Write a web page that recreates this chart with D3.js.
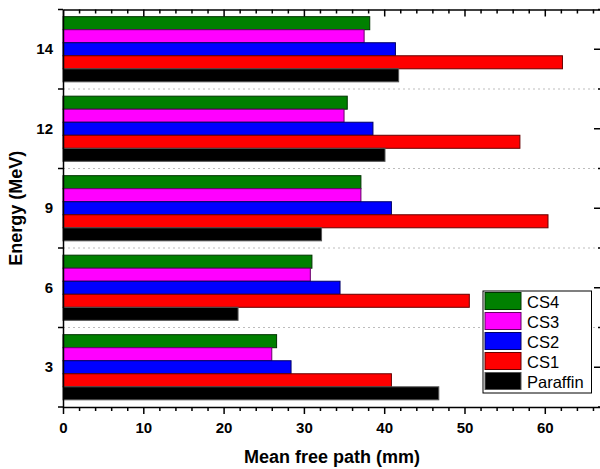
<!DOCTYPE html>
<html>
<head>
<meta charset="utf-8">
<script src="https://cdn.jsdelivr.net/npm/d3@7"></script>
<style>
  body { margin: 0; background: #fff; }
  svg { font-family: "Liberation Sans", Arial, sans-serif; }
  .domain, .tick line { stroke: #000; stroke-width: 1.5; }
</style>
</head>
<body>
<div id="chart"></div>
<script>
// Energy groups (bottom to top) and mean free path per material (mm)
const energies = ['3', '6', '9', '12', '14'];
const paraffin = [46.8, 21.8, 32.2, 40.1, 41.8];
const cs1 = [40.9, 50.6, 60.4, 56.9, 62.2];
const cs2 = [28.4, 34.5, 40.9, 38.6, 41.4];
const cs3 = [26.0, 30.8, 37.1, 35.0, 37.5];
const cs4 = [26.6, 31.0, 37.1, 35.4, 38.2];

const seriesNames = ['CS4', 'CS3', 'CS2', 'CS1', 'Paraffin']; // top to bottom inside group
const seriesValues = { CS4: cs4, CS3: cs3, CS2: cs2, CS1: cs1, Paraffin: paraffin };
const fills = { CS4: '#008000', CS3: '#ff00ff', CS2: '#0000ff', CS1: '#ff0000', Paraffin: '#000000' };
const strokes = { CS4: '#003300', CS3: '#660066', CS2: '#000066', CS1: '#660000', Paraffin: '#555555' };

const width = 600, height = 469;
const plotLeft = 63, plotRight = 601, plotTop = 9.5, plotBottom = 407;
const fontFam = '"Liberation Sans", Arial, sans-serif';

const svg = d3.select('#chart').append('svg')
  .attr('width', width)
  .attr('height', height);

const x = d3.scaleLinear().domain([0, 67]).range([plotLeft, plotRight]);
const y = d3.scaleBand().domain(energies).range([plotBottom, plotTop]);
const ySub = d3.scaleBand().domain(seriesNames)
  .range([0, y.bandwidth()])
  .paddingInner(0)
  .paddingOuter(0.55);

// tick label styling (d3 axis sets its own font on the group)
const styleTicks = g => g
  .attr('font-family', fontFam)
  .attr('font-size', 15)
  .attr('font-weight', 'bold');

// dotted separators between groups
const bounds = energies.slice(0, -1).map(e => y(e));
svg.append('g').selectAll('line')
  .data(bounds)
  .enter().append('line')
  .attr('x1', plotLeft).attr('x2', plotRight)
  .attr('y1', d => d).attr('y2', d => d)
  .attr('stroke', '#bdbdbd')
  .attr('stroke-width', 1)
  .attr('stroke-dasharray', '2,3');

// bars
const rows = [];
energies.forEach((e, i) => {
  seriesNames.forEach(s => rows.push({ energy: e, series: s, value: seriesValues[s][i] }));
});

svg.append('g').selectAll('rect')
  .data(rows)
  .enter().append('rect')
  .attr('x', x(0))
  .attr('y', d => y(d.energy) + ySub(d.series))
  .attr('width', d => x(d.value) - x(0))
  .attr('height', ySub.bandwidth())
  .attr('fill', d => fills[d.series])
  .attr('stroke', d => strokes[d.series])
  .attr('stroke-width', 1);

const minorTicks = d3.range(2, 67, 2).filter(v => v % 10 !== 0);
const majorTicks = [0, 10, 20, 30, 40, 50, 60];

// bottom axis
svg.append('g')
  .attr('transform', `translate(0,${plotBottom})`)
  .call(d3.axisBottom(x).tickValues(minorTicks).tickSize(4).tickFormat(''))
  .call(g => g.select('.domain').remove());
svg.append('g')
  .attr('transform', `translate(0,${plotBottom})`)
  .call(d3.axisBottom(x).tickValues(majorTicks).tickSize(7).tickSizeOuter(0).tickPadding(8))
  .call(styleTicks);

// top axis (ticks pointing inward)
svg.append('g')
  .attr('transform', `translate(0,${plotTop})`)
  .call(d3.axisBottom(x).tickValues(minorTicks).tickSize(4).tickFormat(''))
  .call(g => g.select('.domain').remove());
svg.append('g')
  .attr('transform', `translate(0,${plotTop})`)
  .call(d3.axisBottom(x).tickValues(majorTicks).tickSize(7).tickSizeOuter(0).tickFormat(''));

// left axis: labels at group centres, ticks at group boundaries
svg.append('g')
  .attr('transform', `translate(${plotLeft},0)`)
  .call(d3.axisLeft(y).tickSize(0).tickSizeOuter(0).tickPadding(10))
  .call(styleTicks);
const edges = [plotBottom].concat(energies.map(e => y(e)));
svg.append('g').selectAll('line')
  .data(edges)
  .enter().append('line')
  .attr('x1', plotLeft - 5).attr('x2', plotLeft)
  .attr('y1', d => d).attr('y2', d => d)
  .attr('stroke', '#000').attr('stroke-width', 1.5);

// right axis: inward ticks at group centres
svg.append('g')
  .attr('transform', `translate(${plotRight},0)`)
  .call(d3.axisLeft(y).tickSize(7).tickSizeOuter(0).tickFormat(''));
svg.append('g').selectAll('line')
  .data(edges)
  .enter().append('line')
  .attr('x1', plotRight - 3).attr('x2', plotRight)
  .attr('y1', d => d).attr('y2', d => d)
  .attr('stroke', '#000').attr('stroke-width', 1.5);

// axis titles
svg.append('text')
  .attr('x', (plotLeft + plotRight) / 2)
  .attr('y', 463)
  .attr('text-anchor', 'middle')
  .attr('font-size', 18)
  .attr('font-weight', 'bold')
  .text('Mean free path (mm)');

svg.append('text')
  .attr('transform', `translate(22,${(plotTop + plotBottom) / 2}) rotate(-90)`)
  .attr('text-anchor', 'middle')
  .attr('font-size', 18)
  .attr('font-weight', 'bold')
  .text('Energy (MeV)');

// legend
const legend = svg.append('g').attr('transform', 'translate(483,291)');
legend.append('rect')
  .attr('width', 108.5).attr('height', 102)
  .attr('fill', '#fff').attr('stroke', '#000').attr('stroke-width', 1);
const item = legend.selectAll('g.item')
  .data(seriesNames)
  .enter().append('g')
  .attr('class', 'item')
  .attr('transform', (d, i) => `translate(2,${1.5 + i * 20})`);
item.append('rect')
  .attr('width', 36).attr('height', 17)
  .attr('fill', d => fills[d])
  .attr('stroke', d => strokes[d]).attr('stroke-width', 1);
item.append('text')
  .attr('x', 42).attr('y', 15)
  .attr('font-size', 16.5)
  .text(d => d);
</script>
</body>
</html>
